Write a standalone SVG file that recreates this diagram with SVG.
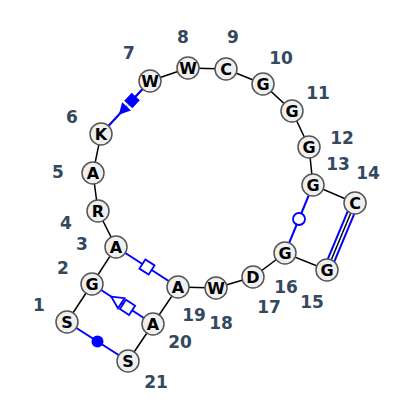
<svg xmlns="http://www.w3.org/2000/svg" width="400" height="407" viewBox="0 0 400 407">
<style>
.bb{stroke:#000;stroke-width:1.5;fill:none}
.bp{stroke:#0000ff;stroke-width:2;fill:none}
.of{fill:#fff;stroke:#0000ff;stroke-width:1.8}
.ff{fill:#0000ff;stroke:none}
.nd circle{fill:#f0f0f0;stroke:#555;stroke-width:1.5}
.nd text{font-family:"DejaVu Sans",sans-serif;font-weight:bold;font-size:16px;text-anchor:middle;fill:#000}
.lb{font-family:"DejaVu Sans",sans-serif;font-weight:bold;font-size:17px;text-anchor:middle;fill:#34495e}
</style>
<rect width="400" height="407" fill="#fff"/>
<g id="connectors">
<polyline class="bb" points="67,322 92,284 116,247 98,211 93,173 101,134 150,81 188,68 226,69 263,84 292,111 309,147 313,185 355,203 327,270 285,253 253,277 216,288 178,287 153,324 128,361"/>
<line class="bp" x1="358.2" y1="204.4" x2="330.2" y2="271.4"/>
<line class="bp" x1="351.8" y1="201.6" x2="323.8" y2="268.6"/>
<line class="bp" x1="150" y1="81" x2="101" y2="134"/>
<g transform="translate(150,81) rotate(132.75)">
<rect class="ff" x="21" y="-5.5" width="11" height="11"/>
<rect fill="#fff" x="32" y="-1" width="2.5" height="2"/>
<polygon class="ff" points="34.5,-6 34.5,6 46,0"/>
</g>
<line class="bp" x1="67" y1="322" x2="128" y2="361"/>
<circle class="ff" cx="97.5" cy="341.5" r="6"/>
<line class="bp" x1="116" y1="247" x2="178" y2="287"/>
<g transform="translate(147,267) rotate(32.8)">
<rect class="of" x="-5.5" y="-5.5" width="11" height="11"/>
</g>
<line class="bp" x1="92" y1="284" x2="153" y2="324"/>
<g transform="translate(92,284) rotate(33.3)">
<polygon class="of" points="23,0 35,-6 35,6"/>
<rect class="of" x="37" y="-5.5" width="11" height="11"/>
</g>
<line class="bp" x1="313" y1="185" x2="285" y2="253"/>
<circle class="of" cx="299" cy="219" r="6"/>
</g>
<g id="n1" class="nd"><circle cx="67" cy="322" r="11"/><text x="67" y="328">S</text></g>
<g id="n2" class="nd"><circle cx="92" cy="284" r="11"/><text x="92" y="290">G</text></g>
<g id="n3" class="nd"><circle cx="116" cy="247" r="11"/><text x="116" y="253">A</text></g>
<g id="n4" class="nd"><circle cx="98" cy="211" r="11"/><text x="98" y="217">R</text></g>
<g id="n5" class="nd"><circle cx="93" cy="173" r="11"/><text x="93" y="179">A</text></g>
<g id="n6" class="nd"><circle cx="101" cy="134" r="11"/><text x="101" y="140">K</text></g>
<g id="n7" class="nd"><circle cx="150" cy="81" r="11"/><text x="150" y="87">W</text></g>
<g id="n8" class="nd"><circle cx="188" cy="68" r="11"/><text x="188" y="74">W</text></g>
<g id="n9" class="nd"><circle cx="226" cy="69" r="11"/><text x="226" y="75">C</text></g>
<g id="n10" class="nd"><circle cx="263" cy="84" r="11"/><text x="263" y="90">G</text></g>
<g id="n11" class="nd"><circle cx="292" cy="111" r="11"/><text x="292" y="117">G</text></g>
<g id="n12" class="nd"><circle cx="309" cy="147" r="11"/><text x="309" y="153">G</text></g>
<g id="n13" class="nd"><circle cx="313" cy="185" r="11"/><text x="313" y="191">G</text></g>
<g id="n14" class="nd"><circle cx="355" cy="203" r="11"/><text x="355" y="209">C</text></g>
<g id="n15" class="nd"><circle cx="327" cy="270" r="11"/><text x="327" y="276">G</text></g>
<g id="n16" class="nd"><circle cx="285" cy="253" r="11"/><text x="285" y="259">G</text></g>
<g id="n17" class="nd"><circle cx="253" cy="277" r="11"/><text x="253" y="283">D</text></g>
<g id="n18" class="nd"><circle cx="216" cy="288" r="11"/><text x="216" y="294">W</text></g>
<g id="n19" class="nd"><circle cx="178" cy="287" r="11"/><text x="178" y="293">A</text></g>
<g id="n20" class="nd"><circle cx="153" cy="324" r="11"/><text x="153" y="330">A</text></g>
<g id="n21" class="nd"><circle cx="128" cy="361" r="11"/><text x="128" y="367">S</text></g>
<g id="labels">
<text class="lb" x="39" y="311">1</text>
<text class="lb" x="63" y="274">2</text>
<text class="lb" x="82" y="250">3</text>
<text class="lb" x="66" y="229">4</text>
<text class="lb" x="58" y="178">5</text>
<text class="lb" x="72" y="123">6</text>
<text class="lb" x="129" y="59">7</text>
<text class="lb" x="183" y="43">8</text>
<text class="lb" x="233" y="43">9</text>
<text class="lb" x="281" y="64">10</text>
<text class="lb" x="318" y="99">11</text>
<text class="lb" x="342" y="144">12</text>
<text class="lb" x="338" y="170">13</text>
<text class="lb" x="368" y="179">14</text>
<text class="lb" x="312" y="308">15</text>
<text class="lb" x="286" y="293">16</text>
<text class="lb" x="269" y="313">17</text>
<text class="lb" x="221" y="329">18</text>
<text class="lb" x="194" y="321">19</text>
<text class="lb" x="180" y="348">20</text>
<text class="lb" x="156" y="388">21</text>
</g>
</svg>
